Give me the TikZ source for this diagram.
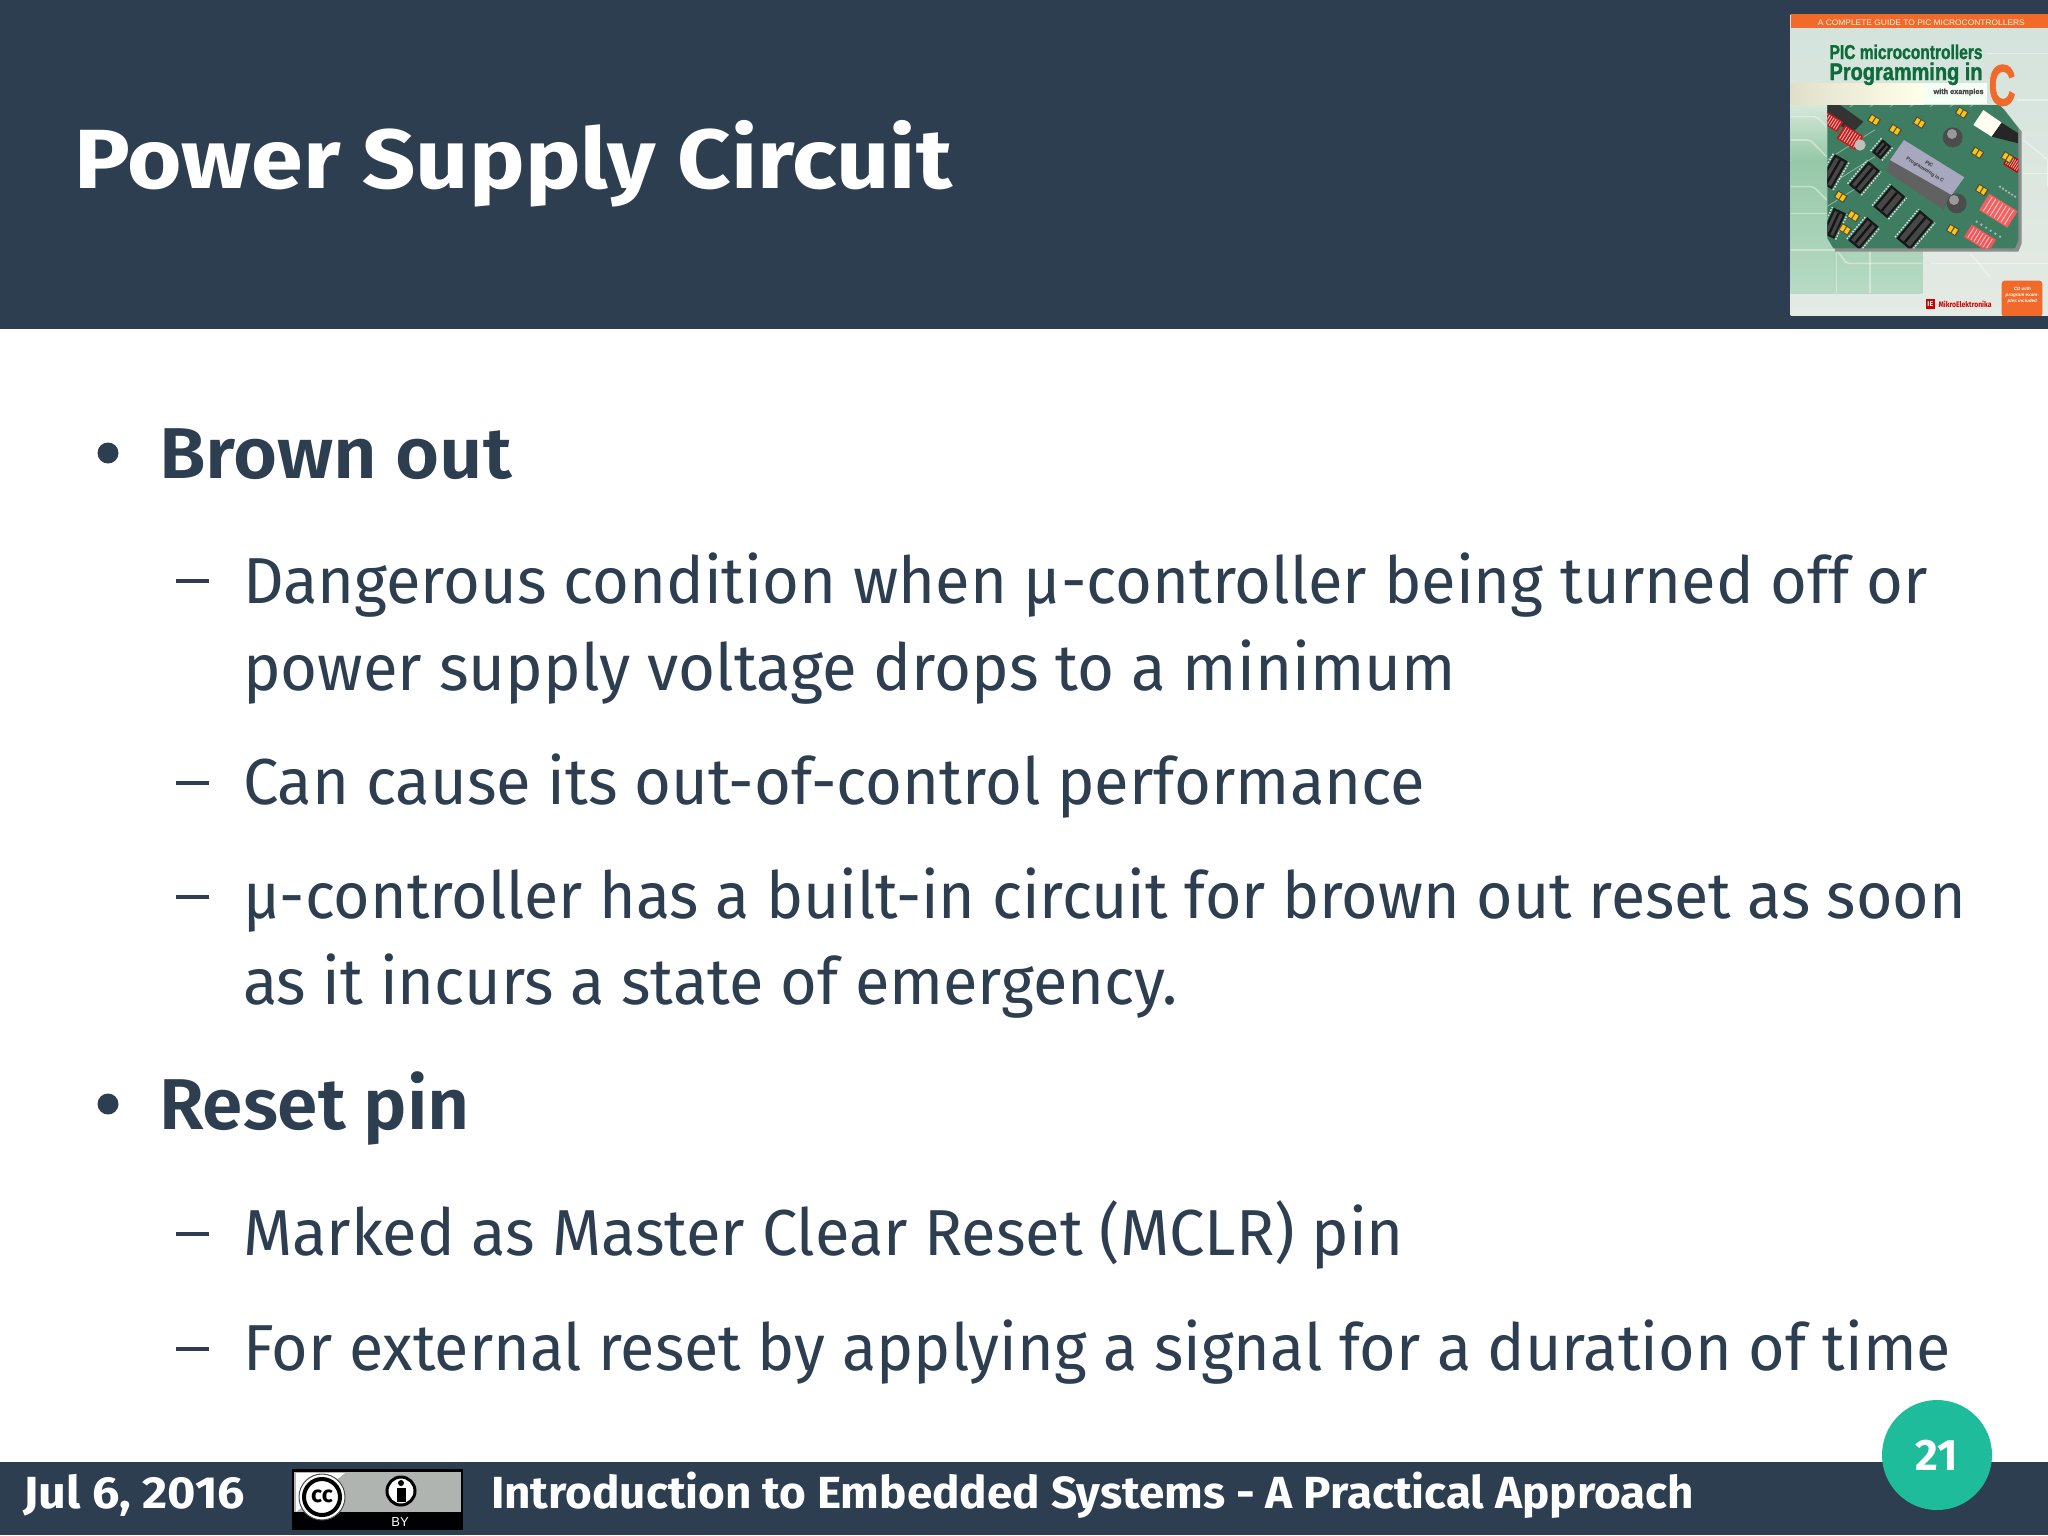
\documentclass[tikz,border=0pt]{standalone}
\usepackage{fontspec}
\usepackage{graphicx}
\setmainfont{Fira Sans}
\newfontfamily\coverfont{Liberation Sans}
\newfontfamily\fatfont[FakeBold=1.6]{Liberation Sans Bold}
\newfontfamily\semib{Fira Sans SemiBold}
\usetikzlibrary{shadings,calc}
\definecolor{slate}{HTML}{2D3E50}
\definecolor{teal}{HTML}{1FBC9C}
\definecolor{coverorange}{HTML}{F26A2A}
\definecolor{covergreen}{HTML}{0E6B3C}
\definecolor{pcb}{HTML}{3F7D63}
\definecolor{bgtop}{HTML}{D3E3DB}
\definecolor{bgbot}{HTML}{E4EAE4}
\definecolor{blockup}{HTML}{D6E8DA}
\definecolor{blocktop}{HTML}{96C8A7}
\definecolor{blockbot}{HTML}{B7DAC4}
\newsavebox{\fitbox}
\newcommand{\fitw}[2]{\sbox{\fitbox}{#2}\pgfmathsetmacro{\fitr}{#1/\the\wd\fitbox}\scalebox{\fitr}[1]{\usebox{\fitbox}}}
\newcommand{\fnt}[1]{\fontsize{#1}{#1}\selectfont}
\tikzset{
 txt/.style={anchor=base west,inner sep=0pt,outer sep=0pt,text=slate},
 wtxt/.style={anchor=base west,inner sep=0pt,outer sep=0pt,text=white},
 dashbar/.style={fill=slate},
 bulletdot/.style={fill=slate},
 sockbody/.style={fill=black!90},
 socketpin/.style={draw=black!12,line width=1.4pt,dash pattern=on 1.6pt off 1.4pt},
 trace/.style={draw=white,line width=1.6pt,opacity=.4,rounded corners=2pt},
 cdline/.style={anchor=base,inner sep=0pt,text=white,font=\coverfont\fnt{4.6}\itshape\bfseries},
}
\newcommand{\sock}[5]{\begin{scope}[shift={(#1,#2)},rotate=#5]
 \fill[sockbody] (-#3/2,-#4/2) rectangle (#3/2,#4/2);
 \draw[socketpin] (-#3/2,-#4/2-5) -- (#3/2,-#4/2-5);
 \draw[socketpin] (-#3/2,#4/2+5) -- (#3/2,#4/2+5);
 \fill[black!72] (-#3/2+7,-#4/2+7) rectangle (#3/2-7,#4/2-7);
 \fill[black!92] (-#3/2+7,-3.5) rectangle (#3/2-7,3.5);
 \end{scope}}
\newcommand{\dip}[6]{\begin{scope}[shift={(#1,#2)},rotate=#5]
 \fill[#6] (-#3/2,-#4/2) rectangle (#3/2,#4/2);
 \foreach \i in {1,...,7}{\fill[white,opacity=.6] ({-#3/2+#3*\i/8-1.5},-#4/2+4) rectangle ({-#3/2+#3*\i/8+1.5},#4/2-4);}
 \end{scope}}
\newcommand{\jump}[3]{\begin{scope}[shift={(#1,#2)},rotate=#3]
 \fill[black!70] (-17,-12) rectangle (17,12);
 \fill[yellow!60!orange] (-13,-9) rectangle (-2,9);
 \fill[yellow!60!orange] (2,-9) rectangle (13,9);
 \end{scope}}
\begin{document}
\begin{tikzpicture}[x=1pt,y=-1pt]
\useasboundingbox (0,0) rectangle (2048,1535);
\fill[white] (0,0) rectangle (2048,1535);
% header
\fill[slate] (0,0) rectangle (2048,329);
\node[wtxt] (title) at (74,188) {\fitw{878}{\fnt{84}\bfseries Power Supply Circuit}};
% cover
\begin{scope}[shift={(1770,0)},x=.33333pt,y=-.33333pt]
 \begin{scope}
 \clip (62,42) rectangle (834,945);
 \shade[top color=bgtop,bottom color=bgbot] (62,42) rectangle (834,945);
 \shade[top color=blockup,bottom color=blocktop] (62,312) rectangle (457,480);
 \shade[top color=blocktop,bottom color=blockbot] (62,480) rectangle (457,880);
 \shade[left color=white!70!yellow!50!gray!50,right color=white!92!yellow] (62,250) rectangle (460,312);
 \fill[white!96!green] (460,250) rectangle (650,312);
 \draw[trace] (62,350) -- (140,350) -- (170,380);
 \draw[trace] (62,420) -- (120,420) -- (170,470);
 \draw[trace] (62,560) -- (130,560) -- (170,600);
 \draw[trace] (62,640) -- (172,640);
 \draw[trace] (62,750) -- (200,750) -- (230,790) -- (457,790);
 \draw[trace] (300,750) -- (300,880);
 \draw[trace] (200,750) -- (200,880);
 \draw[trace] (650,160) -- (834,160);
 \draw[trace] (740,300) -- (834,300);
 \draw[trace] (760,420) -- (834,480) -- (834,560);
 \draw[trace] (760,520) -- (834,520);
 \draw[trace] (480,790) -- (834,790);
 \draw[trace] (600,760) -- (660,830);
 \fill[coverorange] (62,42) rectangle (834,84);
 \node[anchor=base,inner sep=0pt,text=white!90!orange] (covertop) at (454,76) {\fitw{207}{\coverfont\fnt{8}A COMPLETE GUIDE TO PIC MICROCONTROLLERS}};
 \node[anchor=base west,inner sep=0pt,text=covergreen] (coverpic) at (178,177) {\fitw{153}{\fatfont\fnt{20}PIC microcontrollers}};
 \node[anchor=base west,inner sep=0pt,text=covergreen] (coverprog) at (178,240) {\fitw{153}{\fatfont\fnt{24}Programming in}};
 \node[anchor=base west,inner sep=0pt,text=black!70] (coverex) at (490,282) {\fitw{50}{\fatfont\fnt{7.5}with examples}};
 \fill[black!45] (182,325) -- (700,325) -- (755,395) -- (755,730) -- (745,755) -- (195,755) -- cycle;
 \begin{scope}
 \clip (172,315) -- (690,315) -- (745,385) -- (745,722) -- (735,745) -- (190,745) -- (172,715) -- cycle;
 \fill[pcb] (172,315) rectangle (760,750);
 \foreach \a/\b in {240/320,300/320,360/320,420/320,480/320,540/320,600/320,170/480,170/560,170/620}{
  \draw[white!70!pcb,line width=.8pt,opacity=.6] (\a,\b) -- ++(-32:170);}
 \fill[black!80] (172,315) -- (210,315) -- (280,365) -- (245,400) -- (172,350) -- cycle;
 \dip{240}{412}{66}{48}{-32}{red!75!black!90}
 \dip{185}{365}{60}{36}{-32}{red!75!black!90}
 \dip{685}{632}{100}{58}{-32}{red!60!white!95!black}
 \dip{630}{715}{86}{44}{-32}{red!65!white!95!black}
 \dip{730}{490}{50}{36}{-32}{red!75!black}
 \sock{283}{533}{92}{44}{50}
 \sock{358}{605}{84}{54}{50}
 \sock{435}{690}{110}{54}{50}
 \sock{280}{700}{90}{44}{50}
 \sock{335}{448}{50}{34}{50}
 \sock{192}{670}{84}{40}{65}
 \sock{190}{515}{96}{44}{60}
 \fill[black!62] (360,480) -- (545,585) -- (520,628) -- (350,515) -- cycle;
 \fill[blue!15!gray!60] (402,420) -- (583,532) -- (545,585) -- (360,480) -- cycle;
 \node[rotate=-32,inner sep=0pt,text=black!80] (lcdtexta) at (478,492) {\coverfont\fnt{5}\bfseries PIC};
 \node[rotate=-32,inner sep=0pt,text=black!80] (lcdtextb) at (465,510) {\coverfont\fnt{5}\bfseries Programming in C};
 \fill[black!70] (548,412) circle (30);
 \fill[black!40] (546,402) circle (15);
 \fill[black!70] (560,610) circle (30);
 \fill[black!40] (552,600) circle (15);
 \fill[white!95!yellow] (640,330) -- (695,368) -- (665,410) -- (610,375) -- cycle;
 \fill[black!85] (695,368) -- (745,400) -- (745,430) -- (665,410) -- cycle;
 \jump{312}{360}{-32}\jump{375}{390}{-32}\jump{448}{368}{-32}\jump{575}{338}{-32}
 \jump{622}{458}{-32}\jump{212}{590}{-32}\jump{250}{648}{-32}\jump{225}{688}{-32}
 \jump{635}{570}{-32}\jump{548}{690}{-32}\jump{712}{472}{-32}
 \fill[black!25] (270,435) circle (17);
 \foreach \k in {0,...,5}{\fill[black!30] ({620+\k*14},{665+\k*9}) circle (4);\fill[black!30] ({690+\k*9},{560+\k*6}) circle (4);}
 \end{scope}
 \node[anchor=base west,inner sep=0pt,text=coverorange] (coverc) at (655,316) {\fitw{27}{\fatfont\fnt{58}C}};
 \fill[coverorange,rounded corners=3pt] (695,842) rectangle (817,950);
 \node[cdline] (cda) at (757,871) {CD with};
 \node[cdline] (cdb) at (757,889) {program exam-};
 \node[cdline] (cdc) at (757,907) {ples included};
 \fill[red!80!black] (468,897) rectangle (495,927);
 \node[inner sep=0pt,text=white] (coverlogo) at (481,912) {\fnt{7}\bfseries IE};
 \node[anchor=base west,inner sep=0pt,text=red!80!black] (covermikro) at (505,921) {\fitw{53}{\fnt{8}\bfseries MikroElektronika}};
 \end{scope}
\end{scope}
% main text
\fill[bulletdot] (108,453) circle (10.5);
\node[txt] (h1) at (159,478) {\fitw{353}{\fnt{72}\semib Brown out}};
\fill[dashbar] (176,579) rectangle (209,583);
\node[txt] (a1) at (243,603) {\fitw{1685}{\fnt{65}Dangerous condition when µ-controller being turned off or}};
\node[txt] (a2) at (243,690) {\fitw{1213}{\fnt{65}power supply voltage drops to a minimum}};
\fill[dashbar] (176,781) rectangle (209,785);
\node[txt] (b1) at (243,804) {\fitw{1182}{\fnt{65}Can cause its out-of-control performance}};
\fill[dashbar] (176,895) rectangle (209,899);
\node[txt] (c1) at (243,918) {\fitw{1723}{\fnt{65}µ-controller has a built-in circuit for brown out reset as soon}};
\node[txt] (c2) at (243,1004) {\fitw{935}{\fnt{65}as it incurs a state of emergency.}};
\fill[bulletdot] (108,1104) circle (10.5);
\node[txt] (h2) at (159,1129) {\fitw{311}{\fnt{72}\semib Reset pin}};
\fill[dashbar] (176,1232) rectangle (209,1236);
\node[txt] (d1) at (243,1255) {\fitw{1161}{\fnt{65}Marked as Master Clear Reset (MCLR) pin}};
\fill[dashbar] (176,1347) rectangle (209,1351);
\node[txt] (e1) at (243,1370) {\fitw{1708}{\fnt{65}For external reset by applying a signal for a duration of time}};
% footer
\fill[slate] (0,1462) rectangle (2048,1535);
\node[wtxt] (date) at (23,1508) {\fitw{222}{\fnt{45}\bfseries Jul 6, 2016}};
\node[wtxt] (foot) at (491,1508) {\fitw{1203}{\fnt{45}\bfseries Introduction to Embedded Systems - A Practical Approach}};
% cc badge
\fill[black] (292,1469) rectangle (463,1530);
\fill[black!30!green!3!gray!60] (294,1472) rectangle (461,1512);
\fill[white] (296,1473) -- (345,1473) -- (296,1512) -- cycle;
\node[circle,fill=white,draw=black!70,line width=1pt,minimum size=46pt,inner sep=0pt] (cchalo) at (322,1497) {};
\node[circle,fill=white,draw=black,line width=4pt,minimum size=36pt,inner sep=0pt] (ccring) at (322,1497) {};
\node[inner sep=0pt,text=black] (cclabel) at (322,1496) {\fnt{23}\bfseries cc};
\node[circle,fill=white,draw=black,line width=3pt,minimum size=28pt,inner sep=0pt] (byring) at (401,1491) {};
\fill[black] (401,1483) circle (3);
\fill[black] (396.5,1488) rectangle (405.5,1502);
\node[anchor=base,inner sep=0pt,text=white] (bylabel) at (400,1526) {\coverfont\fnt{13}BY};
% page number
\node[circle,fill=teal,minimum size=110pt,inner sep=0pt,text=white] (pagenum) at (1937,1455) {\raisebox{-2pt}{\fnt{44}\bfseries 21}};
\end{tikzpicture}
\end{document}
